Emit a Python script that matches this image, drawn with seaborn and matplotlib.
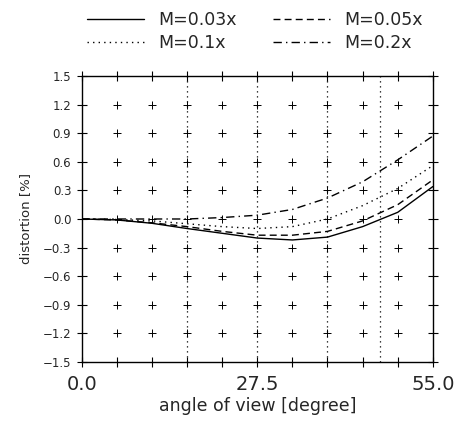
import numpy as np
import pandas as pd
import matplotlib
matplotlib.use("Agg")
import matplotlib.pyplot as plt
import seaborn as sns
from matplotlib.ticker import MultipleLocator, FuncFormatter

# ---- data ----
angle = [0, 5.5, 11, 16.5, 22, 27.5, 33, 38.5, 44, 49.5, 55]
m003 = [0, -0.01, -0.045, -0.10, -0.15, -0.20, -0.22, -0.19, -0.08, 0.07, 0.34]
m005 = [0, -0.01, -0.04, -0.08, -0.13, -0.17, -0.17, -0.13, -0.02, 0.15, 0.41]
m01 = [0, -0.005, -0.02, -0.05, -0.08, -0.10, -0.08, 0.0, 0.14, 0.32, 0.56]
m02 = [0, 0, 0, 0.0, 0.015, 0.04, 0.10, 0.22, 0.39, 0.62, 0.87]
series_labels = ["M=0.03x", "M=0.05x", "M=0.1x", "M=0.2x"]
vlines_x = [16.5, 27.5, 38.5, 46.7]
xtick_labels = [0.0, 27.5, 55.0]

sns.set_style("ticks")
plt.rcParams["font.family"] = ["DejaVu Sans"]

fig = plt.figure(figsize=(4.59, 4.33), dpi=100)
ax = fig.add_axes([0.178, 0.164, 0.765, 0.6605])

styles = [None, (5, 3), (1, 3), (6, 3, 1, 3)]
handles = []
for vals, lab, dash in zip([m003, m005, m01, m02], series_labels, styles):
    sns.lineplot(x=angle, y=vals, ax=ax, color="black", lw=1.0, label=lab)
    ln = ax.lines[-1]
    if dash is not None:
        ln.set_dashes(dash)
    handles.append(ln)
if ax.get_legend() is not None:
    ax.get_legend().remove()

ax.set_xlim(0, 55)
ax.set_ylim(-1.5, 1.5)

# vertical dotted reference lines
for xv in vlines_x:
    ax.plot([xv, xv], [-1.5, 1.5], color="black", lw=0.9, dashes=(1, 3))

# interior plus grid markers
gx = np.arange(1, 10) * 5.5
gy = np.arange(-4, 5) * 0.3
GX, GY = np.meshgrid(gx, gy)
ax.scatter(GX.ravel(), GY.ravel(), marker="+", s=36, color="black", lw=0.7)


def yfmt(v, p):
    v = round(v, 1)
    if abs(v) < 1e-9:
        v = 0.0
    return f"{v:.1f}".replace("-", "\u2212")


ax.xaxis.set_major_locator(MultipleLocator(5.5))
ax.yaxis.set_major_locator(MultipleLocator(0.3))
ax.xaxis.set_major_formatter(FuncFormatter(
    lambda v, p: f"{v:.1f}" if any(abs(v - t) < 1e-6 for t in xtick_labels) else ""))
ax.yaxis.set_major_formatter(FuncFormatter(yfmt))
ax.tick_params(axis="both", which="major", direction="inout", length=7, width=0.8,
               top=True, right=True, color="black")
ax.tick_params(axis="y", labelsize=8.5, pad=4)
ax.tick_params(axis="x", labelsize=14, pad=6)
for s in ax.spines.values():
    s.set_color("black")
    s.set_linewidth(1.0)

ax.set_xlabel("angle of view [degree]", fontsize=12.5, labelpad=2)
ax.set_ylabel("distortion [%]", fontsize=9.5, labelpad=8)

order = [0, 2, 1, 3]
fig.legend([handles[i] for i in order], [series_labels[i] for i in order],
           ncol=2, loc="upper center", bbox_to_anchor=(0.555, 1.01),
           frameon=False, fontsize=12.5, handlelength=3.3, columnspacing=2.1,
           labelspacing=0.25, handletextpad=0.8)

fig.savefig("out.png", dpi=100, facecolor="white")
